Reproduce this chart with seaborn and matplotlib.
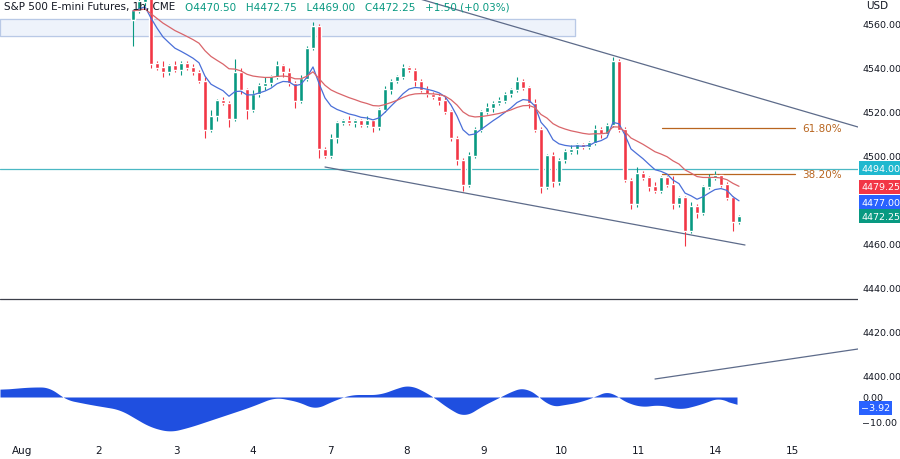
import numpy as np
import pandas as pd
import matplotlib
matplotlib.use("Agg")
import matplotlib.pyplot as plt
import seaborn as sns

sns.set_theme(style="white")
plt.rcParams['font.family'] = ['DejaVu Sans']

# ---- data ----
closes = [4566, 4570, 4572, 4542, 4540, 4538, 4541, 4539, 4542, 4540, 4538, 4534,
          4512, 4518, 4525, 4524, 4517, 4538, 4530, 4521, 4528, 4532, 4533, 4536,
          4541, 4538, 4533, 4525, 4535, 4549, 4559, 4503, 4500, 4508, 4515, 4516,
          4515, 4516, 4514, 4516, 4513, 4521, 4530, 4534, 4536, 4540, 4539, 4534,
          4530, 4528, 4527, 4525, 4520, 4508, 4498, 4487, 4500, 4512, 4520, 4522,
          4524, 4525, 4528, 4530, 4534, 4531, 4524, 4512, 4486, 4500, 4488, 4498,
          4502, 4503, 4505, 4504, 4506, 4512, 4510, 4514, 4543, 4512, 4489, 4478,
          4492, 4490, 4486, 4484, 4490, 4487, 4478, 4481, 4466, 4477, 4474, 4486,
          4490, 4491, 4487, 4481, 4470, 4472.25]
first_open = 4562
upper_wick = [1, 2, 1, 2, 1, 3, 1, 2, 1, 1, 2, 1,
              2, 3, 1, 2, 1, 6, 2, 1, 2, 1, 3, 1,
              2, 1, 2, 1, 2, 1, 2, 1, 1, 2, 1, 1,
              2, 1, 1, 2, 1, 1, 2, 1, 1, 2, 1, 1,
              1, 2, 1, 1, 2, 1, 1, 1, 2, 1, 1, 2,
              1, 2, 1, 1, 2, 1, 1, 2, 1, 1, 2, 1,
              1, 2, 1, 1, 1, 2, 1, 1, 2, 1, 1, 1,
              3, 1, 1, 2, 1, 1, 4, 1, 1, 2, 1, 1,
              2, 2, 1, 1, 1, 1]
lower_wick = [12, 1, 2, 2, 1, 2, 1, 1, 2, 1, 1, 1,
              4, 1, 2, 1, 4, 1, 2, 4, 1, 1, 2, 1,
              1, 2, 1, 3, 1, 1, 1, 4, 1, 1, 2, 1,
              1, 2, 1, 1, 2, 1, 1, 2, 1, 1, 1, 2,
              1, 1, 1, 2, 1, 1, 2, 3, 1, 1, 1, 1,
              2, 1, 1, 1, 1, 1, 2, 1, 3, 1, 2, 1,
              1, 1, 2, 1, 1, 1, 2, 1, 1, 1, 1, 2,
              1, 1, 2, 1, 1, 1, 2, 1, 7, 1, 2, 1,
              1, 1, 1, 1, 4, 1]
osc_px = [0, 30, 50, 65, 90, 120, 150, 170, 190, 220, 250, 275, 300, 315, 330,
          350, 380, 400, 410, 430, 450, 465, 480, 500, 515, 525, 540, 550, 565,
          580, 600, 610, 620, 640, 660, 680, 700, 720, 737]
osc_val = [3, 4, 4, -1, -3, -5, -12, -14, -12, -8, -4, 0, -2, -5, -2,
           1, 1, 4, 5, 1, -5, -8, -4, 0, 3, 4, 0, -4, -3,
           -2, 1, 3, -1, -4, -3, -5, -3, 0, -3.92]
day_labels = ["Aug", "2", "3", "4", "7", "8", "9", "10", "11", "14", "15"]
price_ticks = [4400, 4420, 4440, 4460, 4500, 4520, 4540, 4560]

def dx(px): return (px - 22) / 77.0
def py(px): return 4560 - (px - 25) / 2.2

n = len(closes)
opens = [first_open] + closes[:-1]
xs = np.array([dx(133 + 6 * i) for i in range(n)])
o = np.array(opens, float); c = np.array(closes, float)
hi = np.maximum(o, c) + np.array(upper_wick)
lo = np.minimum(o, c) - np.array(lower_wick)
GREEN, RED = "#089981", "#f23645"
cols = [GREEN if cc >= oo else RED for oo, cc in zip(o, c)]

fig = plt.figure(figsize=(9, 4.6), dpi=100)
ax = fig.add_axes([0, 20/460, 858/900, 440/460])
ax.set_xlim(dx(0), dx(858))
ax.set_ylim(py(440), py(0))

ax.fill_between([dx(0), dx(575)], py(37), py(20), color="#eef3fb", zorder=0)
ax.plot([dx(0), dx(575), dx(575), dx(0), dx(0)], [py(20), py(20), py(37), py(37), py(20)],
        color="#b9c9e6", lw=0.9, zorder=1)
ax.axhline(4494, color="#4bb8c4", lw=0.9, zorder=1)
ax.axhline(py(300), color="#3c3f4a", lw=0.9, zorder=1)
FIB = "#b8651f"
for yy, lab in [(129, "61.80%"), (175, "38.20%")]:
    ax.plot([dx(662), dx(795)], [py(yy), py(yy)], color=FIB, lw=0.9)
    ax.text(dx(802), py(yy), lab, color=FIB, fontsize=7.5, va="center")
TL = "#5d6b8a"
ax.plot([dx(420), dx(858)], [py(0), py(128)], color=TL, lw=0.9)
ax.plot([dx(325), dx(745)], [py(168), py(246)], color=TL, lw=0.9)
ax.plot([dx(655), dx(858)], [py(380), py(350)], color=TL, lw=0.9)

w = 4.6 / 77
ax.vlines(xs, lo, hi, colors=cols, lw=0.8, zorder=3)
ax.bar(xs, np.abs(c - o) + 0.3, bottom=np.minimum(o, c), width=w, color=cols, zorder=4)

df = pd.DataFrame({"x": xs, "c": c})
df["fast"] = df["c"].ewm(span=9, adjust=False).mean()
df["slow"] = df["c"].ewm(span=22, adjust=False).mean()
sns.lineplot(data=df, x="x", y="fast", ax=ax, color="#4a6fd8", lw=0.9, zorder=5)
sns.lineplot(data=df, x="x", y="slow", ax=ax, color="#d9656a", lw=0.9, zorder=5)

ax.set_xlabel(""); ax.set_ylabel("")
ax.set_xticks(range(len(day_labels)))
ax.set_xticklabels(day_labels, fontsize=7.5, color="#131722")
ax.yaxis.tick_right()
ax.set_yticks(price_ticks)
ax.set_yticklabels([f"{t:.2f}" for t in price_ticks], fontsize=6.8, color="#131722")
ax.tick_params(axis="y", length=0, pad=3)
ax.tick_params(axis="x", length=0, pad=4)
for s in ax.spines.values():
    s.set_visible(False)

ax2 = fig.add_axes([0, 20/460, 858/900, 60/460])
ax2.patch.set_alpha(0)
ox = np.array([dx(p) for p in osc_px])
ov = np.array(osc_val, float)
xf = np.linspace(ox[0], ox[-1], 600)
yf = pd.Series(np.interp(xf, ox, ov)).rolling(15, center=True, min_periods=1).mean().values
ax2.fill_between(xf, 0, yf, color="#1f4fe0", lw=0)
ax2.set_xlim(ax.get_xlim()); ax2.set_ylim(-16.8, 7.2)
ax2.yaxis.tick_right()
ax2.set_yticks([0, -10]); ax2.set_yticklabels(["0.00", "−10.00"], fontsize=6.8, color="#131722")
ax2.set_xticks([])
ax2.tick_params(length=0, pad=3)
for s in ax2.spines.values():
    s.set_visible(False)

def tag(y, txt, bg):
    fig.text(861/900, 1 - y/460, txt, fontsize=6.8, color="white", va="center",
             bbox=dict(boxstyle="square,pad=0.25", fc=bg, ec="none"))
tag(169, "4494.00", "#1fb8cf")
tag(188, "4479.25", "#f23645")
tag(203, "4477.00", "#2962ff")
tag(217, "4472.25", "#089981")
tag(409, "−3.92", "#2962ff")
fig.text(866/900, 1 - 6/460, "USD", fontsize=7.5, color="#131722", va="center")
fig.text(4/900, 1 - 7/460, "S&P 500 E-mini Futures, 1h, CME", fontsize=7.5, color="#131722", va="center")
fig.text(185/900, 1 - 7/460, "O4470.50   H4472.75   L4469.00   C4472.25   +1.50 (+0.03%)",
         fontsize=7.5, color="#089981", va="center")

fig.savefig("out.png", dpi=100)
